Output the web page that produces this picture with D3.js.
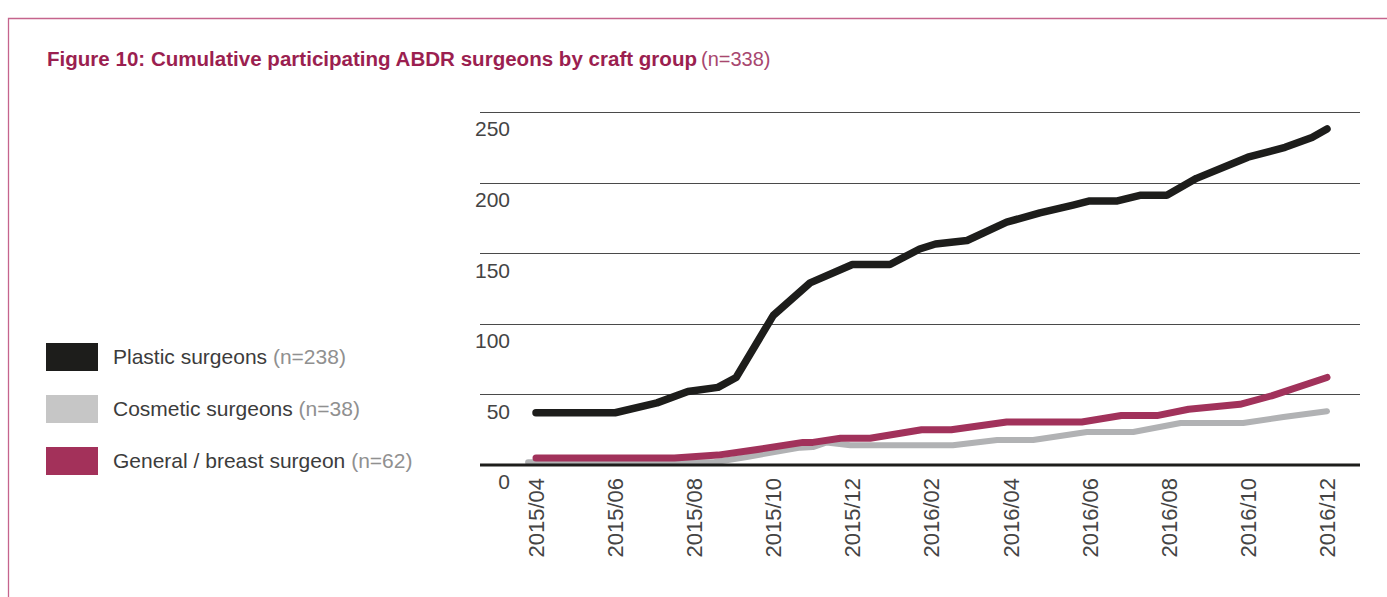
<!DOCTYPE html>
<html>
<head>
<meta charset="utf-8">
<script src="https://cdn.jsdelivr.net/npm/d3@7"></script>
<style>
  html, body { margin: 0; padding: 0; background: #fff; }
  svg { display: block; font-family: "Liberation Sans", Arial, Helvetica, sans-serif; }
</style>
</head>
<body>
<svg id="chart" width="1387" height="597"></svg>
<script>
// ---- data (x = months since 2015/04, y = cumulative surgeons) ----
const seriesNames = ["Plastic surgeons", "Cosmetic surgeons", "General / breast surgeon"];
const seriesCounts = ["(n=238)", "(n=38)", "(n=62)"];
const seriesColors = ["#1d1d1b", "#b1b2b4", "#a1325b"];
const legendColors = ["#1d1d1b", "#c6c6c6", "#a3315a"];

const plasticMonths = [0, 2, 3.06, 3.84, 4.6, 5.06, 6, 6.93, 8, 8.95, 9.7, 10.1, 10.9, 11.9, 12.74, 13.58, 14, 14.7, 15.27, 15.95, 16.7, 18, 18.94, 19.62, 20];
const plasticValues = [37, 37, 44, 52, 55, 62, 106, 129, 142, 142, 153, 156.5, 159, 172, 178.5, 184, 187, 187, 191, 191, 203, 218, 225, 232, 238];

const cosmeticMonths = [-0.2, 4.5, 5.33, 6.68, 7.0, 7.35, 7.95, 10.54, 11.66, 12.57, 13.93, 15.1, 16.3, 17.88, 18.9, 20];
const cosmeticValues = [2, 2, 5.7, 12.3, 12.7, 16, 14, 14, 17.7, 17.7, 23.4, 23.4, 29.7, 29.7, 34, 38];

const generalMonths = [0, 3.5, 4.6, 5.6, 6.75, 7.0, 7.7, 8.45, 9.75, 10.5, 11.9, 13.8, 14.8, 15.7, 16.5, 17.8, 18.6, 20];
const generalValues = [5, 5, 7, 11, 16, 16, 19, 19, 25, 25, 30.5, 30.5, 35, 35, 39.5, 43, 49, 62];

const xTickMonths = [0, 2, 4, 6, 8, 10, 12, 14, 16, 18, 20];
const xTickLabels = ["2015/04", "2015/06", "2015/08", "2015/10", "2015/12", "2016/02", "2016/04", "2016/06", "2016/08", "2016/10", "2016/12"];
const yTicks = [0, 50, 100, 150, 200, 250];

const titleMain = "Figure 10: Cumulative participating ABDR surgeons by craft group";
const titleN = "(n=338)";

// ---- drawing ----
const svg = d3.select("#chart");

// frame
svg.append("path")
  .attr("d", "M8.5,597 V18.5 H1387")
  .attr("fill", "none")
  .attr("stroke", "#c5648d")
  .attr("stroke-width", 1.3);

// title
const title = svg.append("text").attr("x", 47).attr("y", 66)
  .attr("font-size", 20).attr("fill", "#9b1f50");
title.append("tspan").attr("font-weight", "bold").text(titleMain)
  .attr("textLength", 650).attr("lengthAdjust", "spacingAndGlyphs");
title.append("tspan").attr("x", 701).attr("font-weight", "normal").attr("fill", "#a8476f").text(titleN);

const x = d3.scaleLinear().domain([0, 20]).range([536, 1327]);
const y = d3.scaleLinear().domain([0, 250]).range([465, 112]);
const plotLeft = 480, plotRight = 1360;

// gridlines
svg.append("g").selectAll("line")
  .data(yTicks.filter(t => t > 0))
  .join("line")
  .attr("x1", plotLeft).attr("x2", plotRight)
  .attr("y1", d => Math.round(y(d)) + 0.5).attr("y2", d => Math.round(y(d)) + 0.5)
  .attr("stroke", "#4a4a4a").attr("stroke-width", 1.1);

// y labels
svg.append("g").selectAll("text")
  .data(yTicks)
  .join("text")
  .attr("x", 510).attr("y", d => y(d) + 17).attr("dy", "0.35em")
  .attr("text-anchor", "end")
  .attr("font-size", 21).attr("fill", "#444")
  .text(d => d);

// x labels
svg.append("g").selectAll("text")
  .data(xTickMonths)
  .join("text")
  .attr("transform", d => `translate(${x(d)},478) rotate(-90)`)
  .attr("dy", "0.36em")
  .attr("text-anchor", "end")
  .attr("font-size", 22).attr("fill", "#444")
  .text((d, i) => xTickLabels[i]);

// lines
const line = d3.line().x(d => x(d[0])).y(d => y(d[1]));
const series = [
  { m: cosmeticMonths, v: cosmeticValues, c: seriesColors[1], w: 6 },
  { m: generalMonths, v: generalValues, c: seriesColors[2], w: 7 },
  { m: plasticMonths, v: plasticValues, c: seriesColors[0], w: 7.5 }
];
svg.append("g").selectAll("path")
  .data(series)
  .join("path")
  .attr("d", s => line(s.m.map((mm, i) => [mm, s.v[i]])))
  .attr("fill", "none")
  .attr("stroke", s => s.c)
  .attr("stroke-width", s => s.w)
  .attr("stroke-linecap", "round")
  .attr("stroke-linejoin", "round");

// baseline
svg.append("line")
  .attr("x1", plotLeft).attr("x2", plotRight)
  .attr("y1", y(0)).attr("y2", y(0))
  .attr("stroke", "#1d1d1b").attr("stroke-width", 3);

// legend
const legendY = [343, 395, 447];
const lg = svg.append("g").selectAll("g")
  .data(seriesNames)
  .join("g")
  .attr("transform", (d, i) => `translate(46,${legendY[i]})`);
lg.append("rect").attr("width", 52).attr("height", 28)
  .attr("fill", (d, i) => legendColors[i]);
const lt = lg.append("text").attr("x", 67).attr("y", 14).attr("dy", "0.35em")
  .attr("font-size", 21).attr("fill", "#3c3c3c");
lt.append("tspan").text(d => d);
lt.append("tspan").attr("fill", "#909090").text((d, i) => " " + seriesCounts[i]);
</script>
</body>
</html>
